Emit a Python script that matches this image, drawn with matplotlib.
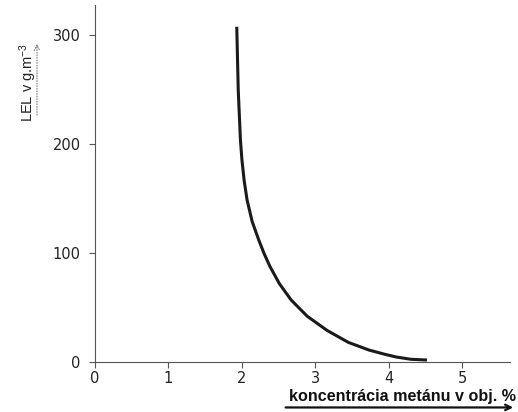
import matplotlib
matplotlib.use('Agg')
import matplotlib.pyplot as plt

plt.rcParams['font.family'] = ['Liberation Sans', 'DejaVu Sans']
plt.rcParams['mathtext.default'] = 'regular'

# koncentrácia metánu (obj. %) a LEL (g.m-3) odčítané z grafu
konc = [1.93, 1.95, 1.98, 2.00, 2.03, 2.07, 2.14, 2.23, 2.30, 2.38, 2.51, 2.67, 2.89,
        3.16, 3.45, 3.73, 3.95, 4.10, 4.30, 4.52]
lel = [308, 250, 204, 186, 167, 149, 129, 112, 100, 88, 72, 57, 42,
       29, 18, 11, 7, 4.6, 2.5, 1.8]
x_ticks = [0, 1, 2, 3, 4, 5]
y_ticks = [0, 100, 200, 300]

fig = plt.figure(figsize=(5.18, 4.12), dpi=100)
ax = fig.add_axes([95 / 518, 50 / 412, 415 / 518, 357 / 412])

ax.plot(konc, lel, color='#1a1a1a', linewidth=2.2, solid_capstyle='butt',
        solid_joinstyle='round')

ax.set_xlim(0, 5.65)
ax.set_ylim(0, 328)
ax.set_xticks(x_ticks)
ax.set_yticks(y_ticks)
ax.spines['top'].set_visible(False)
ax.spines['right'].set_visible(False)
for s in ('left', 'bottom'):
    ax.spines[s].set_color('#555555')
    ax.spines[s].set_linewidth(0.8)
ax.tick_params(axis='both', direction='out', length=4.3, width=0.8, color='#555555',
               labelsize=10.5, labelcolor='#222222')
ax.tick_params(axis='y', pad=6)
ax.tick_params(axis='x', pad=2.5)
for lab in ax.get_xticklabels() + ax.get_yticklabels():
    lab.set_family('DejaVu Sans')

# popisy osí so šípkami
fig.text(0.996, (412 - 397) / 412, 'koncentrácia metánu v obj. %', ha='right', va='center',
         fontsize=11.6, fontweight='bold', color='#111111')
fig.text(28 / 518, 0.80, 'LEL v g.m$^{-3}$', rotation=90, ha='center', va='center',
         fontsize=10.5, color='#222222')
ax.annotate('', xy=(0.996, 0.011), xytext=(0.546, 0.011), xycoords='figure fraction',
            textcoords='figure fraction',
            arrowprops=dict(arrowstyle='->', color='#111111', lw=1.6))
ax.annotate('', xy=(37 / 518, 0.90), xytext=(37 / 518, 0.714), xycoords='figure fraction',
            textcoords='figure fraction',
            arrowprops=dict(arrowstyle='->', color='#666666', lw=0.7, linestyle=':'))

fig.savefig('out.png', dpi=100)
